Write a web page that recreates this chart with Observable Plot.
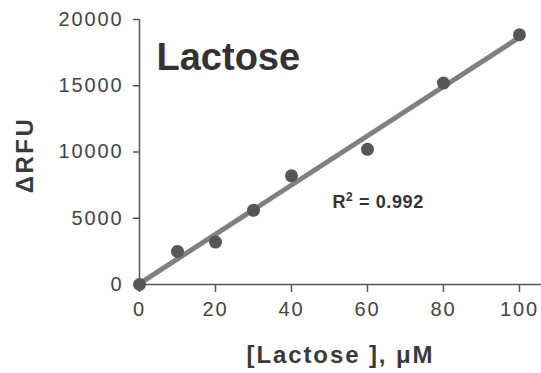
<!DOCTYPE html>
<html><head><meta charset="utf-8">
<script src="https://cdn.jsdelivr.net/npm/d3@7"></script>
<script src="https://cdn.jsdelivr.net/npm/@observablehq/plot@0.6"></script>
<style>
body{margin:0;background:#fff;}
</style></head><body><div id="chart"></div>
<script>
const lactose = [0, 10, 20, 30, 40, 60, 80, 100];
const rfu = [0, 2500, 3200, 5600, 8200, 10200, 15200, 18850];
const xTicks = [0, 20, 40, 60, 80, 100];
const yTicks = [0, 5000, 10000, 15000, 20000];
const title = "Lactose";
const r2Base = "R";
const r2Sup = "2";
const r2Rest = " = 0.992";
const r2Label = r2Base + r2Sup + r2Rest;
const xLabel = "[Lactose ], μM";
const yLabel = "ΔRFU";

const data = lactose.map((x, i) => ({x, y: rfu[i]}));
const axisColor = "#555";
const textColor = "#444";

const svg = Plot.plot({
  width: 541, height: 373,
  marginLeft: 139, marginRight: 0, marginTop: 19, marginBottom: 89,
  style: {fontFamily: "'Liberation Sans', Arial, sans-serif", background: "#fff"},
  x: {domain: [0, 105.8]},
  y: {domain: [0, 20000]},
  marks: [
    Plot.ruleY([0], {stroke: axisColor, strokeWidth: 1.5}),
    Plot.ruleX([0], {stroke: axisColor, strokeWidth: 1.5}),
    Plot.axisX({ticks: xTicks, tickSize: 8, tickPadding: 9, fontSize: 20, color: textColor, stroke: axisColor, strokeWidth: 1.5, label: null, tickFormat: d => String(d)}),
    Plot.axisY({ticks: yTicks, tickSize: 6, tickPadding: 10, fontSize: 20, color: textColor, stroke: axisColor, strokeWidth: 1.5, label: null, tickFormat: d => String(d)}),
    Plot.linearRegressionY(data, {x: "x", y: "y", stroke: "#808080", strokeWidth: 5, ci: 0}),
    Plot.dot(data, {x: "x", y: "y", r: 6.5, fill: "#565656"}),
    Plot.text([title], {frameAnchor: "top-left", dx: 17, dy: 24, lineAnchor: "top", textAnchor: "start", fontSize: 38, fontWeight: "bold", fill: "#333"}),
    Plot.text([r2Label], {frameAnchor: "top-left", dx: 193, dy: 176, lineAnchor: "top", textAnchor: "start", fontSize: 18, fontWeight: "bold", fill: "#333"}),
    Plot.text([xLabel], {frameAnchor: "bottom", dy: 61, lineAnchor: "top", textAnchor: "middle", fontSize: 24, fontWeight: "bold", fill: "#3a3a3a"}),
    Plot.text([yLabel], {frameAnchor: "left", dx: -114, dy: 3, rotate: -90, textAnchor: "middle", fontSize: 24, fontWeight: "bold", fill: "#3a3a3a"})
  ]
});

const s = d3.select(svg);
s.selectAll('g[aria-label="x-axis tick label"] text, g[aria-label="y-axis tick label"] text').style("letter-spacing", "1.9px");
s.selectAll("text").each(function() {
  const t = this.textContent;
  const el = d3.select(this);
  if (t === xLabel) el.style("letter-spacing", "1.9px");
  if (t === yLabel) el.style("letter-spacing", "2.5px");
  if (t === r2Label) {
    el.style("letter-spacing", "0.6px").text(null);
    el.append("tspan").text(r2Base);
    el.append("tspan").attr("font-size", "12px").attr("dy", "-7").text(r2Sup);
    el.append("tspan").attr("dy", "7").text(r2Rest);
  }
});
document.getElementById("chart").appendChild(svg);
</script></body></html>
